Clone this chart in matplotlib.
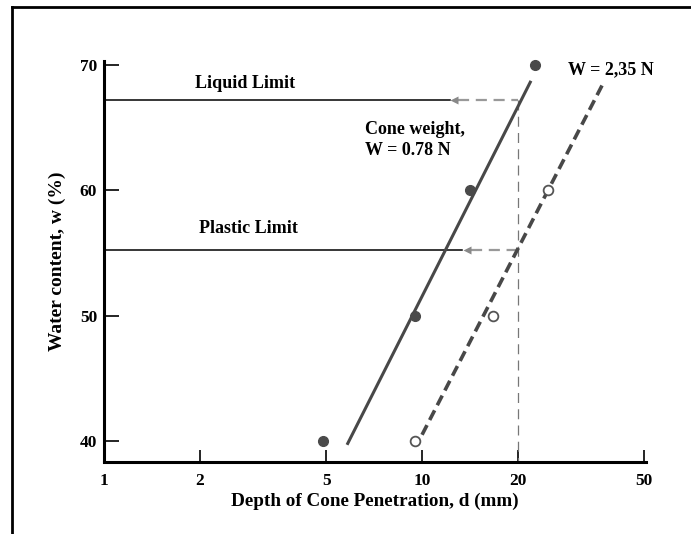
import matplotlib
matplotlib.use("Agg")
import matplotlib.pyplot as plt
from matplotlib.lines import Line2D

plt.rcParams['font.family'] = ['Liberation Serif', 'DejaVu Serif']
plt.rcParams['font.weight'] = 'bold'

# Data
w078_depth = [4.88, 9.5, 14.15, 22.7]
w078_water = [40, 50, 60, 70]
w235_depth = [9.5, 16.7, 24.9]
w235_water = [40, 50, 60]

fit078_depth = [5.81, 22.0]
fit078_water = [39.7, 68.7]
fit235_depth = [10.0, 37.1]
fit235_water = [40.5, 68.5]

liquid_limit = 67.2
plastic_limit = 55.2
ll_arrow_tip = 12.25
pl_arrow_tip = 13.4
ref_depth = 20

xticks = [1, 2, 5, 10, 20, 50]
xticklabels = ['1', '2', '5', '10', '20', '50']
yticks = [40, 50, 60, 70]

W, H = 691, 534
fig = plt.figure(figsize=(W / 100, H / 100), dpi=100)
ax = fig.add_axes([104 / W, 1 - 461.5 / H, (646 - 104) / W, (461.5 - 61) / H])

ax.set_xscale('log')
ax.set_xlim(1, 50.6)
ax.set_ylim(38.37, 70.28)

dark = '#484848'
# Fitted lines
ax.plot(fit078_depth, fit078_water, color=dark, lw=2.2, solid_capstyle='butt', zorder=3)
ax.plot(fit235_depth, fit235_water, color=dark, lw=2.6, dashes=(3, 1.6), zorder=3)

# Limit lines
for yv, tip in [(liquid_limit, ll_arrow_tip), (plastic_limit, pl_arrow_tip)]:
    ax.plot([1, tip], [yv, yv], color='black', lw=1.1, zorder=2)
    ax.plot([tip * 1.06, ref_depth], [yv, yv], color='#999999', lw=1.6, dashes=(5, 3), zorder=2)
    ax.plot([tip * 1.03], [yv], marker='<', color='#888888', markersize=6, mec='none', zorder=2)

ax.plot([ref_depth, ref_depth], [liquid_limit, 38.37], color='#777777', lw=0.9, dashes=(8, 5), zorder=2)

# Data points
ax.plot(w078_depth, w078_water, 'o', color='#4a4a4a', markersize=7, mec='#4a4a4a', zorder=4, clip_on=False)
ax.plot(w235_depth, w235_water, 'o', color='white', markersize=7, mec='#555555', mew=1.3, zorder=4, clip_on=False)

# Axes styling
for s in ['top', 'right']:
    ax.spines[s].set_visible(False)
for s in ['left', 'bottom']:
    ax.spines[s].set_linewidth(2.2)
    ax.spines[s].set_color('black')

ax.set_xticks(xticks)
ax.set_xticklabels(xticklabels)
ax.xaxis.set_minor_locator(matplotlib.ticker.NullLocator())
ax.set_yticks(yticks)
ax.set_yticklabels([str(v) for v in yticks])
ax.tick_params(axis='x', direction='in', length=9, width=1.2, labelsize=12.5, pad=8)
ax.tick_params(axis='y', direction='in', length=11, width=1.2, labelsize=12.5, pad=5)
for t in ax.get_xticklabels() + ax.get_yticklabels():
    t.set_fontweight('bold')

ax.set_xlabel('Depth of Cone Penetration, d (mm)', fontsize=13.8, fontweight='bold', labelpad=3)
ax.set_ylabel('Water content, w (%)', fontsize=14, fontweight='bold', labelpad=10)

# Annotations
ax.text(2.78, 68.5, 'Liquid Limit', fontsize=13, fontweight='bold', ha='center', va='center')
ax.text(2.85, 56.95, 'Plastic Limit', fontsize=13, fontweight='bold', ha='center', va='center')
ax.text(6.6, 64.0, 'Cone weight,\nW = 0.78 N', fontsize=13, fontweight='bold', ha='left', va='center',
        linespacing=1.3)
ax.text(28.8, 69.6, 'W = 2,35 N', fontsize=13, fontweight='bold', ha='left', va='center')

# Outer frame (top and left edges)
fig.add_artist(Line2D([12 / W, 1.0], [1 - 7 / H, 1 - 7 / H], color='black', lw=2, transform=fig.transFigure))
fig.add_artist(Line2D([12 / W, 12 / W], [1 - 7 / H, 0.0], color='black', lw=2, transform=fig.transFigure))

fig.savefig('out.png', dpi=100)
